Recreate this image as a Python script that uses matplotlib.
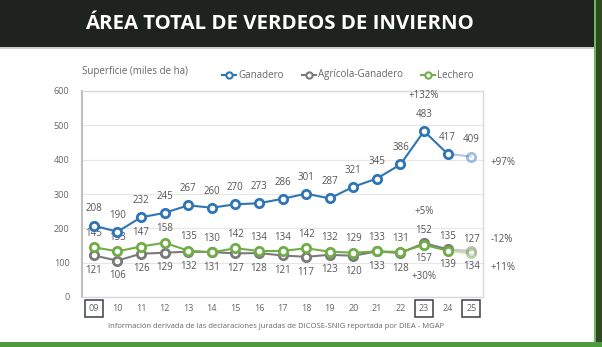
import matplotlib
matplotlib.use("Agg")
import matplotlib.pyplot as plt
from matplotlib.patches import Rectangle

plt.rcParams['font.family'] = ['Open Sans', 'DejaVu Sans']

years = ["09", "10", "11", "12", "13", "14", "15", "16", "17",
         "18", "19", "20", "21", "22", "23", "24", "25"]
ganadero = [208, 190, 232, 245, 267, 260, 270, 273, 286, 301, 287, 321, 345, 386, 483, 417, 409]
agricola = [121, 106, 126, 129, 132, 131, 127, 128, 121, 117, 123, 120, 133, 128, 157, 139, 134]
lechero = [145, 133, 147, 158, 135, 130, 142, 134, 134, 142, 132, 129, 133, 131, 152, 135, 127]
boxed_years = ["09", "23", "25"]

BLUE = "#2e75b6"
GRAY = "#7a7a7a"
GREEN = "#70ad47"
TXT = "#555555"

W, H = 602, 347
fig = plt.figure(figsize=(W / 100, H / 100), dpi=100)
fig.patch.set_facecolor("#2f4a22")

def px_rect(x0, y0, x1, y1, color, z=0, **kw):
    fig.patches.append(Rectangle((x0 / W, 1 - y1 / H), (x1 - x0) / W, (y1 - y0) / H,
                                 transform=fig.transFigure, facecolor=color,
                                 edgecolor="none", zorder=z, **kw))

# page frame: header band, white panel, green borders
px_rect(0, 0, 596, 48, "#1f231f", z=1)
px_rect(0, 48, 594, 342, "white", z=1)
px_rect(0, 342, 602, 347, "#4f9a3c", z=1)
px_rect(594, 0, 596, 342, "#6cb85a", z=1)
px_rect(0, 47, 594, 49, "#cfcfcf", z=1)

fig.text(85 / W, 1 - 24 / H, "ÁREA TOTAL DE VERDEOS DE INVIERNO", color="white",
         fontsize=14.7, fontweight="bold", va="center", ha="left", zorder=3,
         family=['Open Sans', 'DejaVu Sans'])

ax = fig.add_axes([82 / W, 1 - 297 / H, (483 - 82) / W, (297 - 91) / H])
ax.set_zorder(2)
x = list(range(len(years)))
n = len(years)

def draw_series(vals, color):
    ax.plot(x[:-1], vals[:-1], color=color, lw=1.5, zorder=3)
    ax.plot(x[-2:], vals[-2:], color=color, lw=1.5, alpha=0.4, zorder=3)
    ax.plot(x[:-1], vals[:-1], ls="none", marker="o", ms=6, mfc="white",
            mec=color, mew=2, zorder=4)
    ax.plot(x[-1:], vals[-1:], ls="none", marker="o", ms=6, mfc="white",
            mec=color, mew=2, alpha=0.45, zorder=4)

draw_series(agricola, GRAY)
draw_series(lechero, GREEN)
draw_series(ganadero, BLUE)

lbl = dict(fontsize=7, color=TXT, ha="center", textcoords="offset points")
for i, v in enumerate(ganadero):
    ax.annotate(str(v), (i, v), xytext=(0, 8), va="bottom", **lbl)
for i, v in enumerate(lechero):
    ax.annotate(str(v), (i, v), xytext=(0, 6), va="bottom", **lbl)
for i, v in enumerate(agricola):
    ax.annotate(str(v), (i, v), xytext=(0, -7), va="top", **lbl)

pct = dict(fontsize=7, color=TXT, textcoords="offset points")
ax.annotate("+132%", (14, ganadero[14]), xytext=(0, 22), ha="center", va="bottom", **pct)
ax.annotate("+5%", (14, lechero[14]), xytext=(0, 20), ha="center", va="bottom", **pct)
ax.annotate("+30%", (14, agricola[14]), xytext=(0, -20), ha="center", va="top", **pct)
ax.annotate("+97%", (n - 1, ganadero[-1]), xytext=(14, -4), ha="left", va="center",
            annotation_clip=False, **pct)
ax.annotate("-12%", (n - 1, lechero[-1]), xytext=(14, 10), ha="left", va="center",
            annotation_clip=False, **pct)
ax.annotate("+11%", (n - 1, agricola[-1]), xytext=(14, -12), ha="left", va="center",
            annotation_clip=False, **pct)

ax.set_xlim(-0.5, n - 0.5)
ax.set_ylim(0, 600)
ax.set_yticks(range(0, 601, 100))
ax.set_xticks(x)
ax.set_xticklabels(years)
ax.tick_params(axis="both", length=0, labelsize=6.5, labelcolor="#666666")
ax.tick_params(axis="y", pad=9)
ax.tick_params(axis="x", pad=5)
ax.grid(axis="y", color="#e6e6e6", lw=0.8)
ax.set_axisbelow(True)
for s in ax.spines.values():
    s.set_color("#d9d9d9")
    s.set_linewidth(1)
ax.spines["left"].set_color("#bfbfbf")
ax.spines["left"].set_linewidth(1.5)

for t in ax.get_xticklabels():
    if t.get_text() in boxed_years:
        t.set_bbox(dict(boxstyle="square,pad=0.4", fc="none", ec="#3a3f4a", lw=1.1))

ax.text(0.0, 1.07, "Superficie (miles de ha)", transform=ax.transAxes, fontsize=7,
        color="#666666", ha="left", va="bottom")

# legend entries drawn in figure pixel space
leg_items = [("Ganadero", BLUE, 222), ("Agrícola-Ganadero", GRAY, 302), ("Lechero", GREEN, 421)]
for name, col, x0 in leg_items:
    yy = 1 - 75 / H
    fig.add_artist(plt.Line2D([x0 / W, (x0 + 14) / W], [yy, yy], color=col, lw=1.5,
                              marker=None, zorder=5))
    fig.add_artist(plt.Line2D([(x0 + 7) / W], [yy], color=col, marker="o", ms=4.5,
                              mfc="white", mec=col, mew=1.5, zorder=6))
    fig.text((x0 + 16) / W, yy, name, fontsize=7, color="#666666", va="center",
             ha="left", zorder=6)

fig.text(276 / W, 1 - 326 / H,
         "Información derivada de las declaraciones juradas de DICOSE-SNIG reportada por DIEA - MGAP",
         fontsize=5.5, color="#666666", ha="center", va="center", zorder=6)

fig.savefig("out.png", dpi=100, facecolor=fig.get_facecolor())
